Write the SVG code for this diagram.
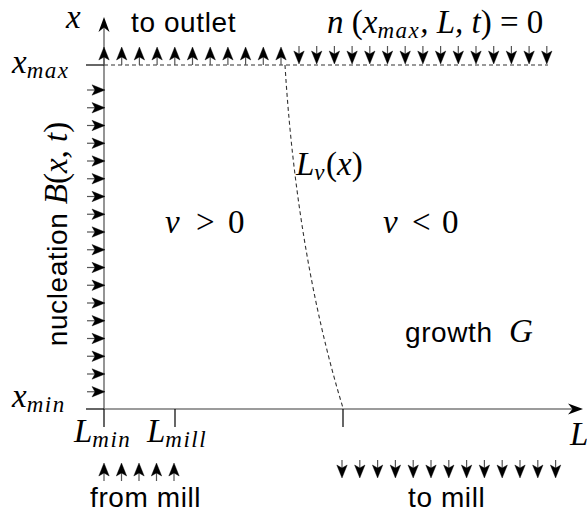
<svg xmlns="http://www.w3.org/2000/svg" xmlns:xlink="http://www.w3.org/1999/xlink" width="587" height="517" viewBox="0 0 587 517">
<style>
.m{font-family:"Liberation Serif","DejaVu Serif",serif;font-style:italic;font-size:33px;fill:#000}
.u{font-style:normal}
.b{font-size:23px;letter-spacing:1.5px}
.s{font-family:"Liberation Sans","DejaVu Sans",sans-serif;font-size:28px;letter-spacing:0.6px;fill:#000}
.axis{stroke:#7a7a7a;stroke-width:1.6;fill:none}
.tick{stroke:#000;stroke-width:1.2;fill:none}
.dash{stroke:#333;stroke-width:1.1;stroke-dasharray:4 3;fill:none}
</style>
<defs>
<g id="a">
<line x1="0" y1="0" x2="0" y2="-10" stroke="#555" stroke-width="1.2"/>
<path d="M0,-18 L5.2,-5 L0,-8 L-5.2,-5 Z" fill="#000" stroke="#000" stroke-width="0.4" stroke-linejoin="round"/>
</g>
<path id="ah" d="M0,0 L-15,-5.5 L-10.5,0 L-15,5.5 Z" fill="#000"/>
</defs>

<g id="axes">
<line class="axis" x1="104" y1="409" x2="104" y2="22"/>
<use xlink:href="#ah" transform="translate(104,17) rotate(-90)"/>
<line class="axis" x1="104" y1="409" x2="578" y2="409"/>
<use xlink:href="#ah" transform="translate(583,409)"/>
<line class="tick" x1="86" y1="409" x2="104" y2="409"/>
<line class="tick" x1="86" y1="65" x2="104" y2="65"/>
<line class="tick" x1="104" y1="409" x2="104" y2="427"/>
<line class="tick" x1="175" y1="409" x2="175" y2="427"/>
<line class="tick" x1="343" y1="409" x2="343" y2="427"/>
</g>

<g id="connectors">
<line class="dash" x1="104" y1="65" x2="548" y2="65"/>
<path class="dash" d="M285,65 C292,180 310,300 343,408"/>
</g>

<g id="outlet-arrows">
<use xlink:href="#a" transform="translate(104,65)"/>
<use xlink:href="#a" transform="translate(121.7,65)"/>
<use xlink:href="#a" transform="translate(139.4,65)"/>
<use xlink:href="#a" transform="translate(157.1,65)"/>
<use xlink:href="#a" transform="translate(174.8,65)"/>
<use xlink:href="#a" transform="translate(192.5,65)"/>
<use xlink:href="#a" transform="translate(210.2,65)"/>
<use xlink:href="#a" transform="translate(227.9,65)"/>
<use xlink:href="#a" transform="translate(245.6,65)"/>
<use xlink:href="#a" transform="translate(263.3,65)"/>
<use xlink:href="#a" transform="translate(281,65)"/>
</g>

<g id="boundary-arrows">
<use xlink:href="#a" transform="translate(299,46) rotate(180)"/>
<use xlink:href="#a" transform="translate(316.7,46) rotate(180)"/>
<use xlink:href="#a" transform="translate(334.4,46) rotate(180)"/>
<use xlink:href="#a" transform="translate(352.1,46) rotate(180)"/>
<use xlink:href="#a" transform="translate(369.8,46) rotate(180)"/>
<use xlink:href="#a" transform="translate(387.5,46) rotate(180)"/>
<use xlink:href="#a" transform="translate(405.2,46) rotate(180)"/>
<use xlink:href="#a" transform="translate(422.9,46) rotate(180)"/>
<use xlink:href="#a" transform="translate(440.6,46) rotate(180)"/>
<use xlink:href="#a" transform="translate(458.3,46) rotate(180)"/>
<use xlink:href="#a" transform="translate(476,46) rotate(180)"/>
<use xlink:href="#a" transform="translate(493.7,46) rotate(180)"/>
<use xlink:href="#a" transform="translate(511.4,46) rotate(180)"/>
<use xlink:href="#a" transform="translate(529.1,46) rotate(180)"/>
<use xlink:href="#a" transform="translate(546.8,46) rotate(180)"/>
</g>

<g id="nucleation-arrows">
<use xlink:href="#a" transform="translate(87,90) rotate(90)"/>
<use xlink:href="#a" transform="translate(87,107.75) rotate(90)"/>
<use xlink:href="#a" transform="translate(87,125.5) rotate(90)"/>
<use xlink:href="#a" transform="translate(87,143.25) rotate(90)"/>
<use xlink:href="#a" transform="translate(87,161) rotate(90)"/>
<use xlink:href="#a" transform="translate(87,178.75) rotate(90)"/>
<use xlink:href="#a" transform="translate(87,196.5) rotate(90)"/>
<use xlink:href="#a" transform="translate(87,214.25) rotate(90)"/>
<use xlink:href="#a" transform="translate(87,232) rotate(90)"/>
<use xlink:href="#a" transform="translate(87,249.75) rotate(90)"/>
<use xlink:href="#a" transform="translate(87,267.5) rotate(90)"/>
<use xlink:href="#a" transform="translate(87,285.25) rotate(90)"/>
<use xlink:href="#a" transform="translate(87,303) rotate(90)"/>
<use xlink:href="#a" transform="translate(87,320.75) rotate(90)"/>
<use xlink:href="#a" transform="translate(87,338.5) rotate(90)"/>
<use xlink:href="#a" transform="translate(87,356.25) rotate(90)"/>
<use xlink:href="#a" transform="translate(87,374) rotate(90)"/>
<use xlink:href="#a" transform="translate(87,391.75) rotate(90)"/>
</g>

<g id="from-mill-arrows">
<use xlink:href="#a" transform="translate(104,481)"/>
<use xlink:href="#a" transform="translate(121.5,481)"/>
<use xlink:href="#a" transform="translate(139,481)"/>
<use xlink:href="#a" transform="translate(156.5,481)"/>
<use xlink:href="#a" transform="translate(174,481)"/>
</g>

<g id="to-mill-arrows">
<use xlink:href="#a" transform="translate(342,460) rotate(180)"/>
<use xlink:href="#a" transform="translate(359.8,460) rotate(180)"/>
<use xlink:href="#a" transform="translate(377.6,460) rotate(180)"/>
<use xlink:href="#a" transform="translate(395.4,460) rotate(180)"/>
<use xlink:href="#a" transform="translate(413.2,460) rotate(180)"/>
<use xlink:href="#a" transform="translate(431,460) rotate(180)"/>
<use xlink:href="#a" transform="translate(448.8,460) rotate(180)"/>
<use xlink:href="#a" transform="translate(466.6,460) rotate(180)"/>
<use xlink:href="#a" transform="translate(484.4,460) rotate(180)"/>
<use xlink:href="#a" transform="translate(502.2,460) rotate(180)"/>
<use xlink:href="#a" transform="translate(520,460) rotate(180)"/>
<use xlink:href="#a" transform="translate(537.8,460) rotate(180)"/>
<use xlink:href="#a" transform="translate(555.6,460) rotate(180)"/>
</g>

<g id="labels">
<text class="m" x="66" y="28" font-size="30">x</text>
<text class="s" x="131" y="32">to outlet</text>
<text class="m" x="327" y="33">n <tspan class="u">(</tspan>x<tspan class="b" dy="5">max</tspan><tspan dy="-5">, L, t</tspan><tspan class="u">) = 0</tspan></text>
<text class="m" x="12" y="73">x<tspan class="b" dy="5">max</tspan></text>
<text class="m" x="12" y="407">x<tspan class="b" dy="5">min</tspan></text>
<text transform="translate(67,234) rotate(-90)" text-anchor="middle"><tspan class="s">nucleation </tspan><tspan class="m">B<tspan class="u">(</tspan>x, t<tspan class="u">)</tspan></tspan></text>
<text class="m" x="296" y="175">L<tspan class="b" dy="5">v</tspan><tspan class="u" dy="-5">(</tspan>x<tspan class="u">)</tspan></text>
<text class="m" y="233"><tspan x="165">v</tspan><tspan class="u" x="196">&gt;</tspan><tspan class="u" x="228">0</tspan></text>
<text class="m" y="233"><tspan x="383">v</tspan><tspan class="u" x="412">&lt;</tspan><tspan class="u" x="442">0</tspan></text>
<text class="s" x="405" y="342">growth</text>
<text class="m" x="509" y="342">G</text>
<text class="m" x="74" y="442">L<tspan class="b" dy="5">min</tspan></text>
<text class="m" x="147" y="442">L<tspan class="b" dy="5">mill</tspan></text>
<text class="m" x="570" y="445">L</text>
<text class="s" x="90" y="507">from mill</text>
<text class="s" x="408" y="507">to mill</text>
</g>
</svg>
